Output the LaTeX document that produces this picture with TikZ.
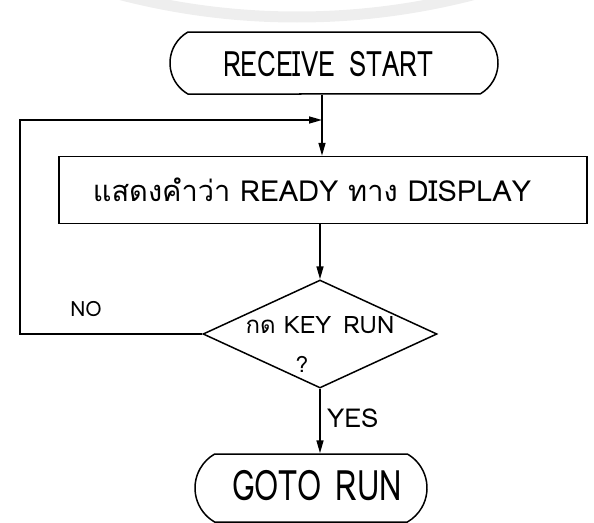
\documentclass[tikz,border=0pt]{standalone}
\usepackage{fontspec}
\newfontfamily\thaifont[Script=Thai]{Loma}
\newfontfamily\narrowfont[Script=Thai,FakeStretch=0.74]{Loma}
\usetikzlibrary{shapes.geometric,shapes.misc,arrows.meta}

\begin{document}
\begin{tikzpicture}[x=1pt,y=1pt,
  line width=1.5pt,
  term/.style={draw, rounded rectangle, rounded rectangle arc length=120,
    inner sep=0pt},
  procbox/.style={draw, rectangle, inner sep=0pt},
  decbox/.style={draw, diamond, inner sep=0pt},
  txt/.style={inner sep=0pt},
  arr/.style={-{Triangle[length=13pt,width=7pt]}},
  lbl/.style={font=\thaifont\fontsize{24}{26}\selectfont}
]
\useasboundingbox (0,0) rectangle (594,-522);

% faint watermark arc along the top edge
\begin{scope}
  \clip (0,0) rectangle (594,-522);
  \draw[gray!13, line width=11pt] (297,685) circle[radius=702];
\end{scope}

% flowchart shapes
\node[term, minimum width=328pt, minimum height=62pt] (start) at (334,-63) {};
\node[procbox, minimum width=528pt, minimum height=67pt] (proc) at (323,-190) {};
\node[decbox, minimum width=234pt, minimum height=108pt] (dec) at (320,-334) {};
\node[term, minimum width=232pt, minimum height=68pt] (goto) at (311,-488) {};

% texts inside the shapes
\node[txt, font=\narrowfont\fontsize{35}{38}\selectfont] (starttext) at (328,-64) {RECEIVE\hspace{14pt}START};
\node[txt, font=\thaifont\fontsize{29}{32}\selectfont] (proctext) at (312,-190) {แสดงคำว่า READY ทาง DISPLAY};
\node[txt, font=\thaifont\fontsize{24}{26}\selectfont] (dectext) at (320,-325) {กด KEY\hspace{12pt}RUN};
\node[txt, font=\thaifont\fontsize{22}{24}\selectfont] (decq) at (302,-364) {?};
\node[txt, font=\narrowfont\fontsize{42}{46}\selectfont] (gototext) at (317,-486) {GOTO\hspace{14pt}RUN};

% loop-back corners and junction
\coordinate (j) at (322,-120);
\coordinate (lb) at (20,-334);
\coordinate (lt) at (20,-120);

% connectors
\draw (j |- start.south) -- (j);
\draw[arr] (j) -- (j |- proc.north);
\draw[arr] (dec.north |- proc.south) -- (dec.north);
\draw[arr] (dec.west) -- (lb) -- (lt) -- (j);
\draw[arr] (dec.south) -- (dec.south |- goto.north);

% branch labels
\node[lbl, font=\thaifont\fontsize{21}{24}\selectfont] (no) at (86,-309) {NO};
\node[lbl, anchor=west, font=\thaifont\fontsize{26}{28}\selectfont] (yes) at (323,-418) {YES};
\end{tikzpicture}
\end{document}
